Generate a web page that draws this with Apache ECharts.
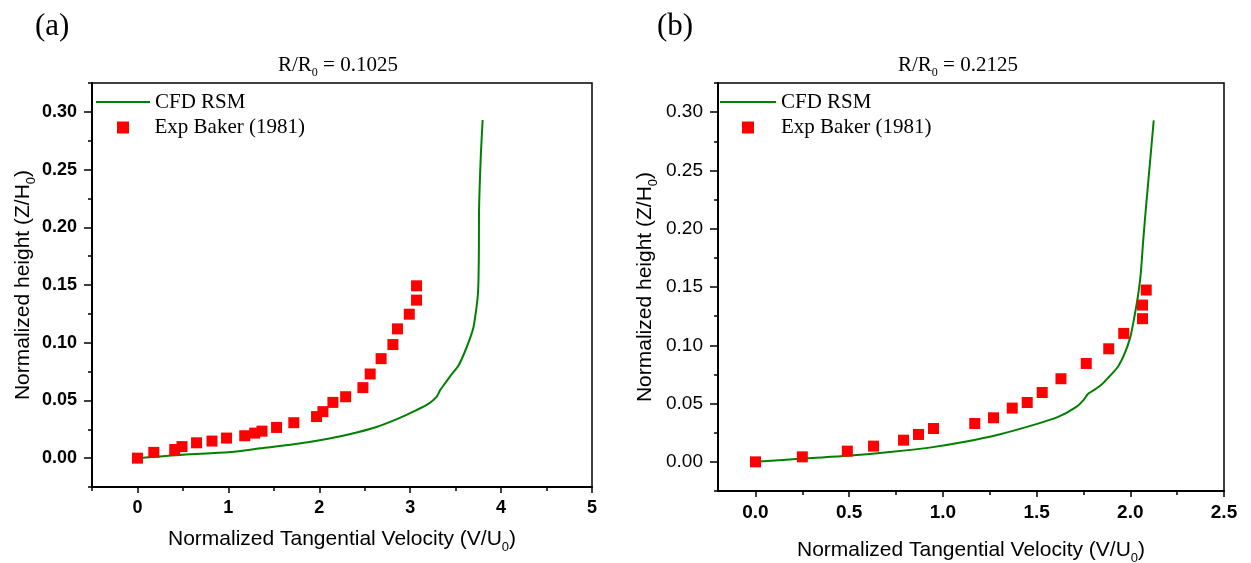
<!DOCTYPE html>
<html>
<head>
<meta charset="utf-8">
<script src="https://cdn.jsdelivr.net/npm/echarts@6/dist/echarts.min.js"></script>
<style>
  html, body { margin: 0; padding: 0; background: #fff; }
  #chart { width: 1251px; height: 563px; }
</style>
</head>
<body>
<div id="chart"></div>
<script>
// ---- Panel (a): R/R0 = 0.1025 ----
const cfdAVel = [0.00, 0.50, 1.00, 1.35, 1.72, 2.02, 2.32, 2.63, 2.86, 3.04, 3.20, 3.29, 3.33, 3.39, 3.46, 3.53, 3.59, 3.65, 3.695, 3.725, 3.745, 3.752, 3.756, 3.757, 3.763, 3.778, 3.797];
const cfdAHeight = [0.000, 0.003, 0.005, 0.0085, 0.012, 0.0158, 0.0205, 0.027, 0.034, 0.0405, 0.047, 0.053, 0.059, 0.0655, 0.073, 0.080, 0.090, 0.102, 0.113, 0.128, 0.142, 0.157, 0.183, 0.212, 0.232, 0.264, 0.293];
const expAVel = [0.00, 0.18, 0.41, 0.49, 0.65, 0.82, 0.98, 1.18, 1.29, 1.37, 1.53, 1.72, 1.97, 2.04, 2.15, 2.29, 2.48, 2.56, 2.68, 2.81, 2.86, 2.99, 3.07, 3.07];
const expAHeight = [0.000, 0.005, 0.0075, 0.010, 0.0133, 0.0148, 0.0174, 0.0194, 0.0217, 0.0234, 0.0266, 0.0307, 0.036, 0.0403, 0.0483, 0.0532, 0.0611, 0.0729, 0.0862, 0.0984, 0.112, 0.1247, 0.1369, 0.1493];

// ---- Panel (b): R/R0 = 0.2125 ----
const cfdBVel = [0.00, 0.27, 0.49, 0.73, 0.92, 1.11, 1.30, 1.48, 1.615, 1.71, 1.75, 1.775, 1.81, 1.85, 1.887, 1.934, 1.97, 2.00, 2.022, 2.043, 2.056, 2.069, 2.084, 2.103, 2.125];
const cfdBHeight = [0.000, 0.003, 0.0052, 0.0086, 0.012, 0.017, 0.0235, 0.0315, 0.0386, 0.047, 0.053, 0.0585, 0.062, 0.0667, 0.073, 0.0816, 0.093, 0.107, 0.1245, 0.1445, 0.162, 0.190, 0.219, 0.253, 0.293];
const expBVel = [0.00, 0.25, 0.49, 0.63, 0.79, 0.87, 0.95, 1.17, 1.27, 1.37, 1.45, 1.53, 1.63, 1.765, 1.885, 1.965, 2.065, 2.065, 2.085];
const expBHeight = [0.000, 0.0043, 0.0092, 0.0135, 0.0186, 0.0235, 0.0286, 0.0329, 0.0378, 0.0461, 0.0509, 0.0595, 0.0713, 0.0844, 0.097, 0.1102, 0.1228, 0.1345, 0.1474];

// ---- Tick positions ----
const xMajorA = [0, 1, 2, 3, 4, 5];
const xMinorA = [-0.5, 0.5, 1.5, 2.5, 3.5, 4.5];
const xMajorB = [0, 0.5, 1.0, 1.5, 2.0, 2.5];
const xMinorB = [0.25, 0.75, 1.25, 1.75, 2.25];
const yMajor = [0, 0.05, 0.10, 0.15, 0.20, 0.25, 0.30];
const yMinor = [-0.025, 0.025, 0.075, 0.125, 0.175, 0.225, 0.275, 0.325];

const seriesNames = ['CFD RSM', 'Exp Baker (1981)'];
const panelTitles = [['R/R', '0', ' = 0.1025'], ['R/R', '0', ' = 0.2125']];
const panelTags = ['(a)', '(b)'];
const xName = ['Normalized Tangential Velocity (V/U', '0', ')'];
const yName = ['Normalized height (Z/H', '0', ')'];

const SANS = 'Liberation Sans';
const SERIF = 'Liberation Serif';

function pairs(xs, ys) { return xs.map((x, i) => [x, ys[i]]); }

function subRich(font, size, subSize, drop) {
  return {
    m: { fontFamily: font, fontSize: size, fontWeight: 'normal', color: '#000' },
    s: { fontFamily: font, fontSize: subSize, fontWeight: 'normal', color: '#000', padding: [drop, 0, 0, 0] }
  };
}
function subText(parts) { return '{m|' + parts[0] + '}{s|' + parts[1] + '}{m|' + parts[2] + '}'; }

function majorAxis(dim, grid, min, max, ticks, opts) {
  const a = {
    type: 'value', gridIndex: grid, min: min, max: max,
    position: dim === 'x' ? 'bottom' : 'left',
    axisLine: { show: true, onZero: false, lineStyle: { color: '#000', width: 2 } },
    axisTick: { show: true, inside: false, length: opts.tickLen, customValues: ticks, lineStyle: { color: '#000', width: 1.5 } },
    axisLabel: {
      show: true, customValues: ticks, margin: opts.margin,
      fontFamily: SANS, fontSize: opts.fontSize, fontWeight: opts.bold ? 'bold' : 'normal', color: '#000',
      formatter: v => v.toFixed(opts.digits)
    },
    splitLine: { show: false },
    name: subText(dim === 'x' ? xName : yName),
    nameLocation: 'middle',
    nameGap: opts.nameGap,
    nameTextStyle: { rich: subRich(SANS, 21, 13, 16) }
  };
  if (dim === 'y') a.nameRotate = 90;
  return a;
}

function minorAxis(dim, grid, min, max, ticks) {
  return {
    type: 'value', gridIndex: grid, min: min, max: max,
    position: dim === 'x' ? 'bottom' : 'left',
    axisLine: { show: false, onZero: false },
    axisTick: { show: true, inside: false, length: 4, customValues: ticks, lineStyle: { color: '#000', width: 1.5 } },
    axisLabel: { show: false },
    splitLine: { show: false }
  };
}

// Line entry: a thin green bar as the key
function lineLegend(left, top, width) {
  return {
    left: left, top: top, padding: 0, orient: 'vertical',
    itemWidth: width, itemHeight: 2, symbolKeepAspect: false,
    data: [{ name: seriesNames[0], icon: 'rect' }], selectedMode: false,
    itemStyle: { color: '#008000' },
    textStyle: { fontFamily: SERIF, fontSize: 21, color: '#000' }
  };
}
// Marker entry: a square key, text pushed to line up with the line entry
function markerLegend(left, top, textPad) {
  return {
    left: left, top: top, padding: 0, orient: 'vertical',
    itemWidth: 12, itemHeight: 12,
    data: [{ name: seriesNames[1], icon: 'rect' }], selectedMode: false,
    itemStyle: { color: '#ff0000' },
    textStyle: { fontFamily: SERIF, fontSize: 21, color: '#000', padding: [0, 0, 0, textPad] }
  };
}

const chart = echarts.init(document.getElementById('chart'), null, { renderer: 'canvas' });

const gridBase = { show: true, borderColor: '#000', borderWidth: 1.5, backgroundColor: 'transparent', containLabel: false, outerBoundsMode: 'none' };

const option = {
  animation: false,
  backgroundColor: '#fff',
  grid: [
    Object.assign({ left: 92, top: 83, width: 500, height: 404 }, gridBase),
    Object.assign({ left: 718, top: 83, width: 506, height: 408 }, gridBase)
  ],
  xAxis: [
    majorAxis('x', 0, -0.5, 5, xMajorA, { tickLen: 6, margin: 12, fontSize: 18, bold: true, digits: 0, nameGap: 38 }),
    minorAxis('x', 0, -0.5, 5, xMinorA),
    majorAxis('x', 1, -0.2, 2.5, xMajorB, { tickLen: 6, margin: 12, fontSize: 19, bold: true, digits: 1, nameGap: 45 }),
    minorAxis('x', 1, -0.2, 2.5, xMinorB)
  ],
  yAxis: [
    majorAxis('y', 0, -0.025, 0.325, yMajor, { tickLen: 8, margin: 15, fontSize: 18, bold: true, digits: 2, nameGap: 54 }),
    minorAxis('y', 0, -0.025, 0.325, yMinor),
    majorAxis('y', 1, -0.025, 0.325, yMajor, { tickLen: 8, margin: 15, fontSize: 19, bold: false, digits: 2, nameGap: 58 }),
    minorAxis('y', 1, -0.025, 0.325, yMinor)
  ],
  title: [
    { text: subText(panelTitles[0]), left: 278, top: 51, padding: 0, textStyle: { fontWeight: 'normal', rich: subRich(SERIF, 21, 12, 16) } },
    { text: subText(panelTitles[1]), left: 898, top: 51, padding: 0, textStyle: { fontWeight: 'normal', rich: subRich(SERIF, 21, 12, 16) } }
  ],
  legend: [
    lineLegend(96, 91.5, 54),
    markerLegend(117, 117, 20.5),
    lineLegend(720, 91.5, 56),
    markerLegend(742, 117, 22)
  ],
  graphic: [
    { type: 'text', left: 35, top: 11, style: { text: panelTags[0], font: '31px "Liberation Serif"', fill: '#000' } },
    { type: 'text', left: 657, top: 11, style: { text: panelTags[1], font: '31px "Liberation Serif"', fill: '#000' } }
  ],
  series: [
    { type: 'line', name: seriesNames[0], xAxisIndex: 0, yAxisIndex: 0, data: pairs(cfdAVel, cfdAHeight),
      symbol: 'none', showSymbol: false, smooth: 0.25, lineStyle: { color: '#008000', width: 2 }, itemStyle: { color: '#008000' }, z: 2 },
    { type: 'scatter', name: seriesNames[1], xAxisIndex: 0, yAxisIndex: 0, data: pairs(expAVel, expAHeight),
      symbol: 'rect', symbolSize: 11, itemStyle: { color: '#ff0000', opacity: 1 }, z: 3 },
    { type: 'line', name: seriesNames[0], xAxisIndex: 2, yAxisIndex: 2, data: pairs(cfdBVel, cfdBHeight),
      symbol: 'none', showSymbol: false, smooth: 0.25, lineStyle: { color: '#008000', width: 2 }, itemStyle: { color: '#008000' }, z: 2 },
    { type: 'scatter', name: seriesNames[1], xAxisIndex: 2, yAxisIndex: 2, data: pairs(expBVel, expBHeight),
      symbol: 'rect', symbolSize: 11, itemStyle: { color: '#ff0000', opacity: 1 }, z: 3 }
  ]
};

chart.setOption(option);
</script>
</body>
</html>
